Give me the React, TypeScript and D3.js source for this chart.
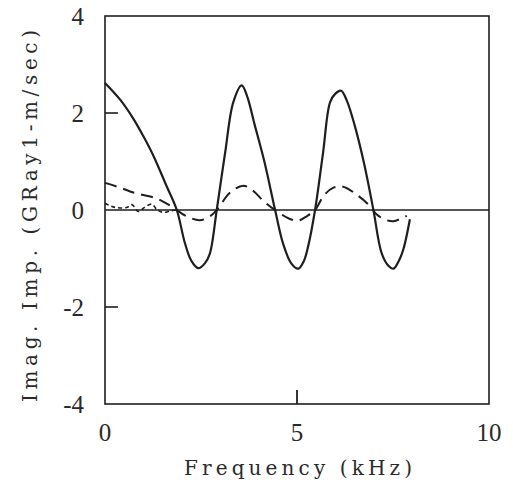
import React, { useEffect, useRef } from 'react'
import * as d3 from "d3";

// frequency (kHz) / imaginary impedance values
const solidFreq = [0, 0.4, 0.74, 1.0, 1.26, 1.6, 1.87, 2.08, 2.25, 2.43, 2.6, 2.73, 2.91, 3.13, 3.34, 3.56, 3.7, 3.9, 4.15, 4.43, 4.64, 4.85, 5.03, 5.18, 5.29, 5.47, 5.68, 5.86, 6.0, 6.15, 6.3, 6.5, 6.75, 6.99, 7.2, 7.38, 7.51, 7.65, 7.77, 7.94];
const solidValue = [2.62, 2.27, 1.88, 1.52, 1.12, 0.5, 0, -0.68, -1.05, -1.2, -1.1, -0.9, 0, 1.19, 2.22, 2.57, 2.35, 1.75, 1.0, 0, -0.7, -1.1, -1.21, -1.05, -0.75, 0, 1.19, 2.22, 2.4, 2.46, 2.25, 1.75, 0.95, 0, -0.88, -1.15, -1.21, -1.05, -0.81, -0.19];

const dashFreq = [0, 0.4, 0.74, 1.26, 1.5, 1.78, 2.1, 2.47, 2.75, 2.91, 3.26, 3.6, 3.85, 4.12, 4.43, 4.8, 5.03, 5.25, 5.47, 5.7, 5.95, 6.2, 6.6, 6.9, 7.07, 7.3, 7.51, 7.7, 7.86];
const dashValue = [0.56, 0.46, 0.36, 0.26, 0.18, 0.05, -0.12, -0.21, -0.12, 0, 0.36, 0.5, 0.4, 0.19, 0, -0.18, -0.22, -0.13, 0, 0.3, 0.46, 0.48, 0.29, 0.08, -0.09, -0.2, -0.23, -0.18, -0.12];

const dotFreq = [0, 0.15, 0.3, 0.56, 0.7, 0.87, 1.04, 1.22, 1.35, 1.52, 1.69, 1.85];
const dotValue = [0.14, 0.08, 0.05, 0.05, 0.11, -0.03, 0.06, 0.12, 0.01, -0.05, -0.02, 0];

const xTicks = [0, 5, 10];
const yTicks = [4, 2, 0, -2, -4];
const xTickMarks = [5];
const yTickMarks = [2, -2];

export default function App() {

    let ref = useRef<SVGSVGElement>(null);

    useEffect(() => {
        var svg = d3.select(ref.current);
        svg.selectAll("*").remove();

        var ink = "#1e1e1e";
        var tickFont = "'Liberation Serif', 'DejaVu Serif', serif";
        var titleFont = "'DejaVu Serif', 'Liberation Serif', serif";

        var x = d3.scaleLinear().domain([0, 10]).range([105, 489]);
        var y = d3.scaleLinear().domain([-4, 4]).range([404, 16]);

        //frame
        svg.append("rect")
            .attr("x", x(0)).attr("y", y(4))
            .attr("width", x(10) - x(0)).attr("height", y(-4) - y(4))
            .attr("fill", "none").attr("stroke", ink).attr("stroke-width", 1.6);

        //inward ticks
        svg.selectAll(".ytick").data(yTickMarks).enter().append("line")
            .attr("x1", x(0)).attr("x2", x(0) + 13)
            .attr("y1", d => y(d)).attr("y2", d => y(d))
            .attr("stroke", ink).attr("stroke-width", 1.6);
        svg.selectAll(".xtick").data(xTickMarks).enter().append("line")
            .attr("x1", d => x(d)).attr("x2", d => x(d))
            .attr("y1", y(-4)).attr("y2", y(-4) - 14)
            .attr("stroke", ink).attr("stroke-width", 1.8);

        //zero line
        svg.append("line")
            .attr("x1", x(0)).attr("x2", x(10))
            .attr("y1", y(0)).attr("y2", y(0))
            .attr("stroke", ink).attr("stroke-width", 1.5);

        //tick labels
        svg.selectAll(".xlab").data(xTicks).enter().append("text")
            .attr("x", d => x(d)).attr("y", 441)
            .attr("text-anchor", "middle")
            .style("font-family", tickFont).style("font-size", "25px").style("fill", "#2a2a2a")
            .text(d => d);
        svg.selectAll(".ylab").data(yTicks).enter().append("text")
            .attr("x", 84).attr("y", d => y(d)).attr("dy", "0.35em")
            .attr("text-anchor", "end")
            .style("font-family", tickFont).style("font-size", "25px").style("fill", "#2a2a2a")
            .text(d => d);

        //axis titles
        svg.append("text")
            .attr("x", 298).attr("y", 475)
            .attr("text-anchor", "middle")
            .attr("textLength", 228).attr("lengthAdjust", "spacing")
            .style("font-family", titleFont).style("font-size", "20px").style("fill", "#2a2a2a")
            .text("Frequency (kHz)");
        svg.append("text")
            .attr("transform", "translate(30,216) rotate(-90)")
            .attr("text-anchor", "middle").attr("dy", "0.35em")
            .attr("textLength", 372).attr("lengthAdjust", "spacing")
            .style("font-family", titleFont).style("font-size", "20px").style("fill", "#2a2a2a")
            .text("Imag. Imp. (GRay1-m/sec)");

        //curves
        var line = d3.line<[number, number]>()
            .x(d => x(d[0])).y(d => y(d[1]))
            .curve(d3.curveCatmullRom.alpha(0.5));

        svg.append("path")
            .attr("d", line(dotFreq.map((f, i) => [f, dotValue[i]])))
            .attr("fill", "none").attr("stroke", ink).attr("stroke-width", 1.6)
            .attr("stroke-dasharray", "4 3");
        svg.append("path")
            .attr("d", line(dashFreq.map((f, i) => [f, dashValue[i]])))
            .attr("fill", "none").attr("stroke", ink).attr("stroke-width", 2)
            .attr("stroke-dasharray", "12 7");
        svg.append("path")
            .attr("d", line(solidFreq.map((f, i) => [f, solidValue[i]])))
            .attr("fill", "none").attr("stroke", ink).attr("stroke-width", 2.2);

    }, [])

    return (
        <svg ref={ref} width={513} height={499}
            style={{ position: 'absolute', left: 0, top: 0, background: 'white' }}>
        </svg>
    );
}
